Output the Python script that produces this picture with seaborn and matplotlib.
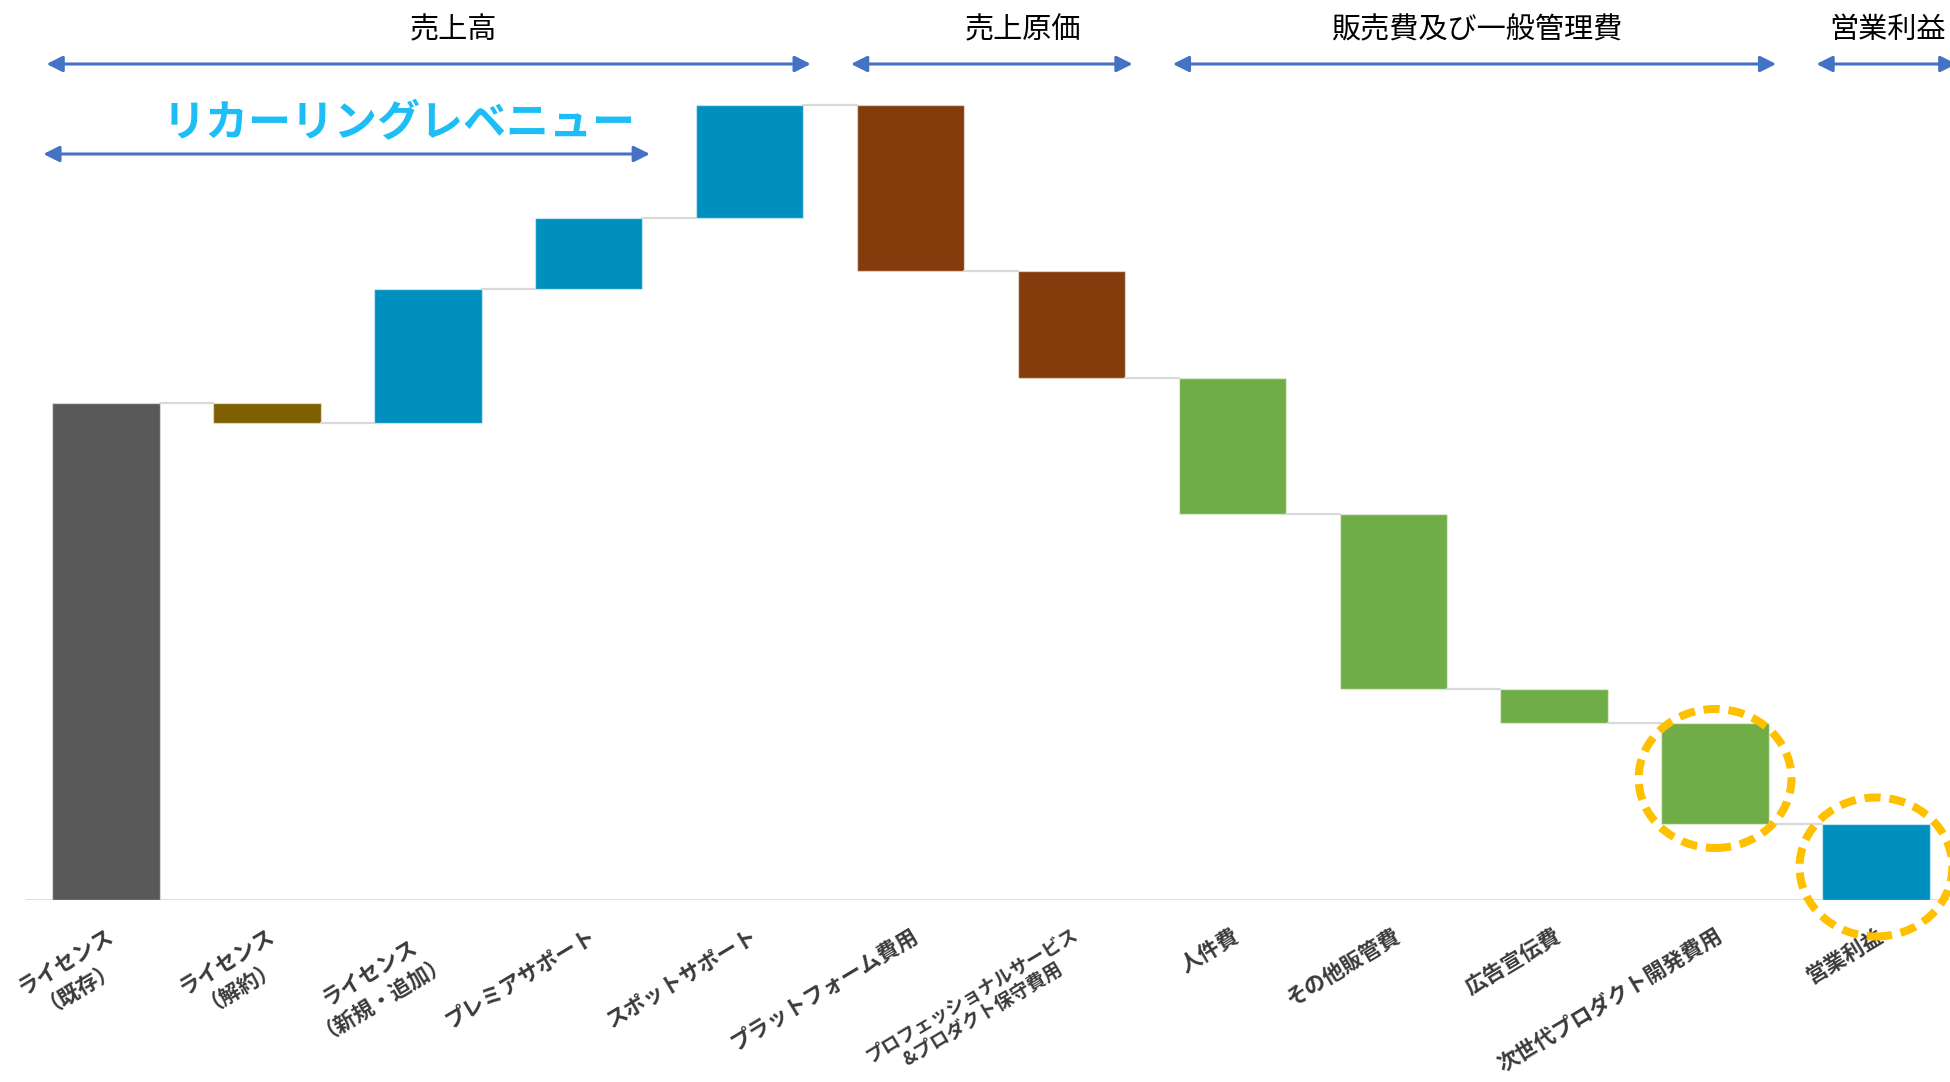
import numpy as np
import pandas as pd
import matplotlib
matplotlib.use('Agg')
import matplotlib.pyplot as plt
import seaborn as sns
from matplotlib.patches import Ellipse

# waterfall data (arbitrary units)
items = ['ライセンス\n（既存）', 'ライセンス\n（解約）', 'ライセンス\n（新規・追加）',
         'プレミアサポート', 'スポットサポート', 'プラットフォーム費用',
         'プロフェッショナルサービス\n&プロダクト保守費用', '人件費', 'その他販管費',
         '広告宣伝費', '次世代プロダクト開発費用', '営業利益']
changes = [497, -20, 134, 71, 113, -166, -107, -136, -175, -34, -101, 76]
is_total = [True, False, False, False, False, False, False, False, False, False, False, True]
bar_colors = ['#595959', '#7F6000', '#0090C0', '#0090C0', '#0090C0', '#843C0C',
              '#843C0C', '#70AD47', '#70AD47', '#70AD47', '#70AD47', '#0090C0']

# group brackets at the top: (label, first item, last item)
groups = ['売上高', '売上原価', '販売費及び一般管理費', '営業利益']
group_first = [0, 5, 7, 11]
group_last = [4, 6, 10, 11]
group_text_x = [2.16, 5.70, 8.52, 11.07]
highlight = [10, 11]

# floating bar extents
lows, highs, levels = [], [], []
running = 0
for v, tot in zip(changes, is_total):
    if tot:
        lo, hi = 0, v
        running = v
    else:
        new = running + v
        lo, hi = min(running, new), max(running, new)
        running = new
    lows.append(lo)
    highs.append(hi)
    levels.append(running)

sns.set_theme(style='white')
plt.rcParams['font.family'] = ['Noto Sans CJK JP', 'DejaVu Sans']

fig = plt.figure(figsize=(19.5, 10.82), dpi=100)
ax = fig.add_axes([25.6 / 1950, 182 / 1082, 1930.8 / 1950, 900 / 1082])

W = 0.667
df = pd.DataFrame({'item': items, 'top': highs})
sns.barplot(data=df, x='item', y='top', hue='item', palette=bar_colors, legend=False,
            width=W, saturation=1, edgecolor=(1, 1, 1, 0.5), linewidth=1, ax=ax)

for p, lo, hi in zip(sorted(ax.patches, key=lambda p: p.get_x()), lows, highs):
    p.set_y(lo)
    p.set_height(hi - lo)

# connectors
for i in range(len(items) - 1):
    ax.plot([i + W / 2, i + 1 - W / 2], [levels[i], levels[i]], color='#d9d9d9', lw=1.6, zorder=1)

ax.axhline(0, color='#d9d9d9', lw=2, zorder=0)

ax.set_xlim(-0.5, len(items) - 0.5)
ax.set_ylim(0, 900)
ax.set_xlabel('')
ax.set_ylabel('')
ax.set_yticks([])
for s in ax.spines.values():
    s.set_visible(False)

ax.set_xticks(range(len(items)))
ax.set_xticklabels(items, rotation=31, ha='right', rotation_mode='anchor',
                   fontsize=15.5, fontweight='bold', color='#3a3a3a',
                   multialignment='center', linespacing=1.15)
ax.tick_params(axis='x', length=0, pad=18)
# the long two-line label is set a little smaller so it fits above the bottom edge
ax.get_xticklabels()[6].set_fontsize(13.5)

# top brackets
arrow_kw = dict(arrowstyle='<|-|>', color='#4472C4', lw=2.2, mutation_scale=24, shrinkA=0, shrinkB=0)
for name, a, b, tx in zip(groups, group_first, group_last, group_text_x):
    x0 = a - 0.37
    x1 = b + 0.38 if b < len(items) - 1 else len(items) - 0.5
    ax.annotate('', xy=(x1, 836), xytext=(x0, 836), arrowprops=arrow_kw, annotation_clip=False)
    ax.text(tx, 870, name, ha='center', va='center', fontsize=21, color='black', clip_on=False)

# recurring revenue bracket
ax.annotate('', xy=(3.38, 746), xytext=(-0.39, 746), arrowprops=arrow_kw, annotation_clip=False)
ax.text(3.29, 777, 'リカーリングレベニュー', ha='right', va='center', fontsize=31,
        fontweight='bold', color='#1CBEF5')

# dashed highlight circles
for i in highlight:
    cy = (lows[i] + highs[i]) / 2
    e = Ellipse((i, cy - 5), width=0.95, height=139, fill=False, edgecolor='#FFC000',
                lw=5.8, linestyle=(0, (2.0, 1.1)), clip_on=False, zorder=5)
    ax.add_patch(e)

fig.savefig('out.png', dpi=100)
